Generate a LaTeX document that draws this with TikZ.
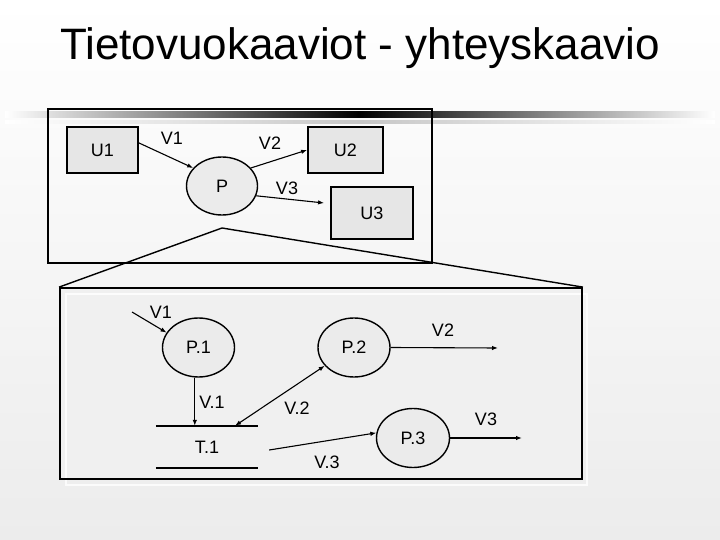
\documentclass[tikz,border=0pt]{standalone}
\usepackage{fontspec}
\setmainfont{Liberation Sans}
\usetikzlibrary{shapes.geometric, arrows.meta, positioning, calc}
\definecolor{slideGray}{HTML}{ECECEC}
\definecolor{boxGray}{HTML}{E6E6E6}
\definecolor{procGray}{HTML}{EBEBEB}
\newcommand{\lblfont}{\fontsize{18}{21}\selectfont}

\begin{document}
\begin{tikzpicture}[x=1pt, y=-1pt,
  ext/.style={draw, line width=1.8pt, fill=boxGray, font=\lblfont},
  proc/.style={ellipse, draw, line width=1.4pt, fill=procGray, font=\lblfont,
    minimum width=72pt, minimum height=59pt, inner sep=0pt},
  flow/.style={-{Latex[length=6pt,width=4.5pt]}, line width=1.1pt},
  lbl/.style={font=\lblfont, inner sep=1pt},
  frame/.style={draw, line width=1.8pt}]

  % slide background and template bars
  \useasboundingbox (0,0) rectangle (720,540);
  \shade[top color=white, bottom color=slideGray] (0,0) rectangle (720,540);
  \shade[left color=white, right color=white, middle color=black] (5,112) rectangle (715,118);
  \shade[left color=white, right color=white, middle color=black!22] (5,121) rectangle (715,124);

  \node[font=\fontsize{44}{50}\selectfont] (title) at (360,48) {Tietovuokaaviot - yhteyskaavio};

  % context level
  \node[frame, minimum width=384pt, minimum height=154pt] (upper) at (240,186) {};
  \node[ext, minimum width=71pt, minimum height=46pt] (u1) at (102.5,150) {U1};
  \node[proc, minimum width=71pt, minimum height=58pt] (p) at (222,186) {P};
  \node[ext, minimum width=75pt, minimum height=46pt] (u2) at (345.5,150) {U2};
  \node[ext, minimum width=82pt, minimum height=52pt] (u3) at (372,213) {U3};

  \draw[flow] (u1.11) -- (p.148);
  \draw[flow] (p.32) -- (u2.west);
  \draw[flow] (p.-16) -- ($(u3.west)+(-6,-10)$);
  \node[lbl] (v1) at (172,138) {V1};
  \node[lbl] (v2) at (270,143) {V2};
  \node[lbl] (v3) at (287,188) {V3};

  % detail level
  \fill[black!6] (60,288) rectangle (582,479);
  \draw[white, line width=1.5pt, opacity=0.8] (66,294) rectangle (587,485);
  \node[frame, minimum width=522pt, minimum height=191pt] (lower) at (321,383.5) {};
  \coordinate (apex) at (222,228);
  \draw[line width=1.4pt] (lower.north west) -- (apex) -- (lower.north east);

  \node[proc] (p1) at (198.5,347.5) {P.1};
  \node[proc] (p2) at (354,347.5) {P.2};
  \node[proc, minimum width=73pt] (p3) at (413,438) {P.3};
  \node[font=\lblfont, minimum width=102pt, minimum height=42pt] (t1) at (207,447) {T.1};
  \draw[line width=1.5pt] (t1.north west) -- (t1.north east) (t1.south west) -- (t1.south east);

  \coordinate (in1) at (132,312);
  \coordinate (out2) at (498,348);
  \coordinate (out3) at (522,438);
  \draw[flow] (in1) -- (p1.155);
  \draw[flow] (p1.263) -- (p1.263 |- t1.north);
  \draw[{Latex[length=6pt,width=4.5pt]}-{Latex[length=6pt,width=4.5pt]}, line width=1.1pt]
    ($(t1.north)+(28,0)$) -- (p2.212);
  \draw[flow] ($(t1.east)+(11,3)$) -- (p3.172);
  \draw[flow] (p2.east) -- (out2);
  \draw[flow] (p3.east) -- (out3);

  \node[lbl] (v1in) at (161,312) {V1};
  \node[lbl] (v11) at (212,402) {V.1};
  \node[lbl] (v22) at (297,408) {V.2};
  \node[lbl] (v33) at (327,462) {V.3};
  \node[lbl] (v2out) at (443,330) {V2};
  \node[lbl] (v3out) at (486,419) {V3};
\end{tikzpicture}
\end{document}
